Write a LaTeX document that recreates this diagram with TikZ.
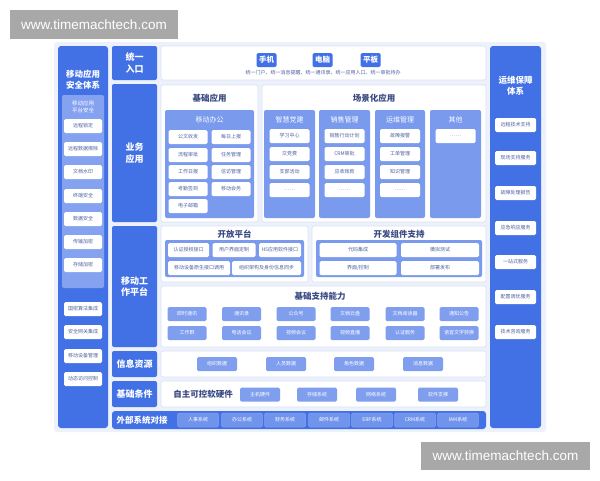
\documentclass[tikz,border=0pt]{standalone}
\usepackage{fontspec}
\setmainfont{Noto Sans CJK SC}
\newfontfamily\wmfont{Liberation Sans}
\definecolor{dblue}{RGB}{66,112,229}
\definecolor{lblue}{RGB}{132,162,240}
\definecolor{mblue}{RGB}{122,154,238}
\definecolor{iblue}{RGB}{128,158,238}
\definecolor{xblue}{RGB}{112,148,236}
\definecolor{itext}{RGB}{78,98,160}
\definecolor{ttext}{RGB}{58,74,130}
\definecolor{pborder}{RGB}{218,226,243}
\definecolor{regionc}{RGB}{236,241,251}
\definecolor{wmgray}{RGB}{168,168,168}
\newcommand\R[7]{\node[#1,minimum width={(#5-#3)*1pt},minimum height={(#6-#4)*1pt}] (#2) at ({(#3+#5)/2},{(#4+#6)/2}) {#7};}
\tikzset{
 bxbase/.style={rectangle, inner sep=0pt, outer sep=0pt},
 wmark/.style={bxbase, fill=wmgray, text=white, font=\wmfont\fontsize{13.5}{15}\selectfont},
 region/.style={bxbase, fill=regionc, rounded corners=3pt},
 col/.style={bxbase, fill=dblue, rounded corners=3pt},
 hdr/.style={bxbase, fill=dblue, rounded corners=2pt, text=white, font=\fontsize{9}{11.5}\selectfont\bfseries, align=center},
 panel/.style={bxbase, fill=white, draw=pborder, line width=0.7pt, rounded corners=2pt},
 module/.style={bxbase, fill=mblue, rounded corners=2pt},
 inbox/.style={bxbase, fill=lblue, rounded corners=2pt},
 witem/.style={bxbase, fill=white, text=itext, font=\fontsize{5}{6}\selectfont, rounded corners=1.5pt, minimum height=14pt},
 bitem/.style={bxbase, fill=iblue, text=white, font=\fontsize{5}{6}\selectfont, rounded corners=1.5pt, minimum width=39pt, minimum height=14pt},
 xitem/.style={bxbase, fill=xblue, draw=lblue, line width=0.5pt, text=white, font=\fontsize{5}{6}\selectfont, rounded corners=1.5pt, minimum width=41pt, minimum height=14pt},
 btn/.style={bxbase, fill=dblue, text=white, font=\fontsize{7.5}{9}\selectfont\bfseries, rounded corners=1.5pt, minimum width=20pt, minimum height=14pt},
 ttl/.style={bxbase, text=ttext, font=\fontsize{8.5}{10}\selectfont\bfseries},
 mttl/.style={bxbase, text=white, font=\fontsize{7}{8}\selectfont},
 coltitle/.style={bxbase, text=white, font=\fontsize{8.5}{11}\selectfont\bfseries, align=center},
}
\begin{document}
\begin{tikzpicture}[x=1pt,y=-1pt]
\useasboundingbox (0,0) rectangle (600,480);
\fill[white] (0,0) rectangle (600,480);
% watermarks
\R{wmark}{wm1}{10}{10}{178}{39}{www.timemachtech.com}
\R{wmark}{wm2}{421}{442}{590}{470}{www.timemachtech.com}
% region
\R{region}{bg}{54}{42}{546}{432}{}
% left column
\R{col}{lcol}{58}{46}{108}{428}{}
\node[coltitle] (ltitle) at (83,80) {移动应用\\安全体系};
\R{inbox}{lin}{62}{95}{104}{288}{}
\node[bxbase, text=white, font=\fontsize{5.5}{7}\selectfont, align=center] (linttl) at (83,107) {移动应用\\平台安全};
\foreach \yy/\tt [count=\i] in {126/远程锁定,149/远程数据擦除,172/文档水印,196/终端安全,219/数据安全,242/传输加密,265/存储加密,309/国密算法集成,332/安全网关集成,356/移动设备管理,379/动态访问控制}
  \node[witem, minimum width=38pt] (ls\i) at (83,\yy) {\tt};
% right column
\R{col}{rcol}{490}{46}{541}{428}{}
\node[coltitle] (rtitle) at (515.5,86) {运维保障\\体系};
\foreach \yy/\tt [count=\i] in {125/远程技术支持,158/现场支持服务,193/故障处理报告,228/应急响应服务,262/一站式服务,297/配置调优服务,332/技术咨询服务}
  \node[witem, minimum width=41pt] (rs\i) at (515.5,\yy) {\tt};
% row headers
\R{hdr}{h1}{112}{46}{157}{80}{统一\\入口}
\R{hdr}{h2}{112}{84}{157}{222}{业务\\应用}
\R{hdr}{h3}{112}{226}{157}{347}{移动工\\作平台}
\R{hdr}{h4}{112}{351}{157}{377}{信息资源}
\R{hdr}{h5}{112}{381}{157}{407}{基础条件}
% unified entry
\R{panel}{p1}{161}{46}{486}{80}{}
\node[btn] (b1) at (266.5,60) {手机};
\node[btn] (b2) at (322.5,60) {电脑};
\node[btn] (b3) at (370.5,60) {平板};
\node[bxbase, text=itext, font=\fontsize{5}{6}\selectfont] (cap) at (323,73) {统一门户、统一消息提醒、统一通讯录、统一应用入口、统一审批待办};
% business apps
\R{panel}{p2a}{161}{85}{258}{222}{}
\R{panel}{p2b}{262}{85}{486}{222}{}
\node[ttl] (t2a) at (209.5,98) {基础应用};
\node[ttl] (t2b) at (374,98) {场景化应用};
\R{module}{mo}{165}{110}{254}{218}{}
\node[mttl] (mot) at (209.5,120) {移动办公};
\foreach \xx/\yy/\tt [count=\i] in {188/137/公文收发,231/137/每日上报,188/155/流程审批,231/155/任务管理,188/172/工作日报,231/172/信访管理,188/189/考勤签到,231/189/移动会务,188/206/电子邮箱}
  \node[witem, minimum width=39pt] (mo\i) at (\xx,\yy) {\tt};
\R{module}{ma}{264}{110}{315}{218}{}
\R{module}{mb}{319}{110}{370}{218}{}
\R{module}{mc}{375}{110}{425}{218}{}
\R{module}{md}{430}{110}{481}{218}{}
\node[mttl] (mat) at (289.5,120) {智慧党建};
\node[mttl] (mbt) at (344.5,120) {销售管理};
\node[mttl] (mct) at (400,120) {运维管理};
\node[mttl] (mdt) at (455.5,120) {其他};
\foreach \yy/\tt [count=\i] in {136/学习中心,154/交党费,172/支部活动,190/……}
  \node[witem, minimum width=40pt] (ma\i) at (289.5,\yy) {\tt};
\foreach \yy/\tt [count=\i] in {136/销售行动计划,154/CRM审批,172/应收账款,190/……}
  \node[witem, minimum width=40pt] (mb\i) at (344.5,\yy) {\tt};
\foreach \yy/\tt [count=\i] in {136/故障报警,154/工单管理,172/知识管理,190/……}
  \node[witem, minimum width=40pt] (mc\i) at (400,\yy) {\tt};
\node[witem, minimum width=40pt] (md1) at (455.5,136) {……};
% mobile work platform
\R{panel}{p3a}{161}{226}{308}{282}{}
\R{panel}{p3b}{312}{226}{486}{282}{}
\node[ttl] (t3a) at (234.5,234) {开放平台};
\node[ttl] (t3b) at (399,234) {开发组件支持};
\R{module}{oa}{165}{240}{304}{277}{}
\node[witem, minimum width=41pt] (oa1) at (188.5,250) {认证授权接口};
\node[witem, minimum width=43pt] (oa2) at (234,250) {用户界面定制};
\node[witem, minimum width=42pt] (oa3) at (280,250) {H5应用软件接口};
\node[witem, minimum width=62pt] (oa4) at (199,268) {移动设备原生接口调用};
\node[witem, minimum width=69pt] (oa5) at (266.5,268) {组织架构及身份信息同步};
\R{module}{ob}{316}{240}{482}{277}{}
\node[witem, minimum width=77pt] (ob1) at (358,250) {代码集成};
\node[witem, minimum width=78pt] (ob2) at (440,250) {模拟测试};
\node[witem, minimum width=77pt] (ob3) at (358,268) {界面/控制};
\node[witem, minimum width=78pt] (ob4) at (440,268) {部署发布};
\R{panel}{p3c}{161}{286}{486}{347}{}
\node[ttl] (t3c) at (320,296) {基础支持能力};
\foreach \xx/\tt [count=\i] in {187/即时通讯,241.5/通讯录,296/公众号,350/文档云盘,405/文档阅读器,459/通知公告}
  \node[bitem] (s1\i) at (\xx,314) {\tt};
\foreach \xx/\tt [count=\i] in {187/工作群,241.5/电话会议,296/视频会议,350/视频直播,405/认证服务,459/语音文字转换}
  \node[bitem] (s2\i) at (\xx,333) {\tt};
% information resources
\R{panel}{p4}{161}{351}{486}{377}{}
\foreach \xx/\tt [count=\i] in {217/组织数据,286/人员数据,354/角色数据,423/消息数据}
  \node[bitem, minimum width=40pt] (ir\i) at (\xx,364) {\tt};
% base conditions
\R{panel}{p5}{161}{381}{486}{407}{}
\node[bxbase, text=ttext, font=\fontsize{8.5}{10}\selectfont\bfseries] (zz) at (203,394.5) {自主可控软硬件};
\foreach \xx/\tt [count=\i] in {260/主机硬件,317/存储系统,376/网络系统,438/软件支撑}
  \node[bitem, minimum width=40pt] (bc\i) at (\xx,394.5) {\tt};
% external systems
\R{col}{ext}{112}{411}{486}{429}{}
\node[bxbase, text=white, font=\fontsize{8.5}{10}\selectfont\bfseries] (extt) at (142,420) {外部系统对接};
\foreach \xx/\tt [count=\i] in {198/人事系统,242/办公系统,285/财务系统,329/邮件系统,372/ERP系统,415/CRM系统,458/IAM系统}
  \node[xitem] (ex\i) at (\xx,420) {\tt};
\end{tikzpicture}
\end{document}
